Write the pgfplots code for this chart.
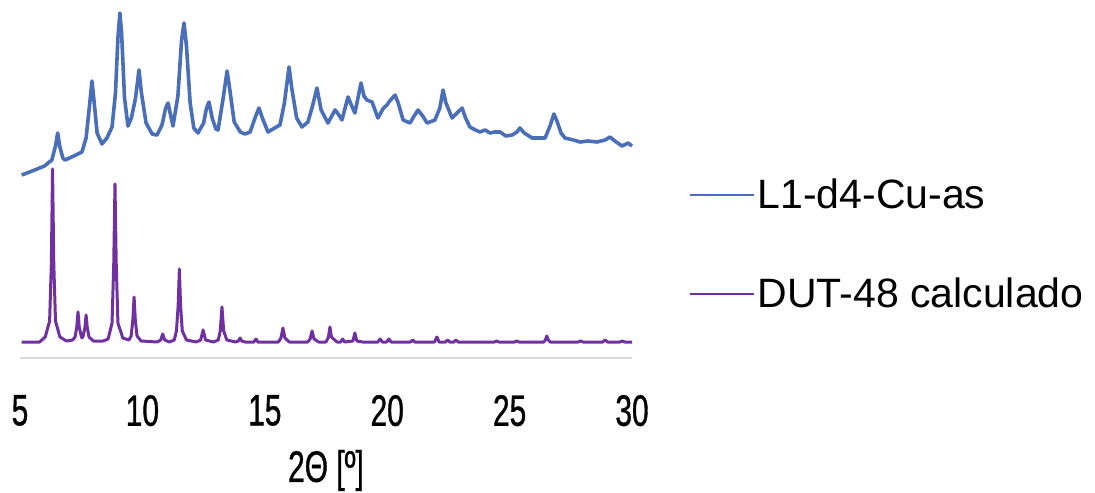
\documentclass[border=0pt]{standalone}
\usepackage{fontspec}
\setmainfont{Liberation Sans}
\newfontfamily\condfont[FakeStretch=0.68,FakeBold=0.8]{Liberation Sans}
\usepackage{pgfplots}
\pgfplotsset{compat=1.18}
\definecolor{xblue}{HTML}{4A6FB8}
\definecolor{xpurple}{HTML}{7030A0}
\definecolor{xgray}{HTML}{D9D9D9}
\begin{document}
\begin{tikzpicture}
\useasboundingbox (0,0) rectangle (547.5pt,246pt);
\begin{axis}[
  at={(10pt,67pt)}, anchor=south west,
  scale only axis, width=306pt, height=179pt,
  xmin=5, xmax=30, ymin=0, ymax=358,
  clip=false,
  axis x line=bottom,
  axis y line=none,
  x axis line style={draw=xgray, line width=1pt, -},
  xtick={5,10,15,20,25,30},
  major tick length=0pt,
  /pgf/number format/assume math mode=true,
  xticklabel style={font=\condfont\fontsize{22}{26}\selectfont, yshift=-15pt},
  xlabel={2Θ [º]},
  xlabel style={font=\condfont\fontsize{22}{26}\selectfont, yshift=-5pt},
  legend cell align=left,
  legend image code/.code={\draw[#1, line width=1.1pt] (0pt,0pt) -- (32pt,0pt);},
  legend style={draw=none, fill=none, at={(rel axis cs:1.0915,0.317)}, anchor=west,
    font=\fontsize{20.5}{24}\selectfont, row sep=30pt, inner sep=0pt,
    nodes={inner sep=1.5pt}},
]
\addplot[xblue, line width=1.8pt, line join=round] coordinates {
(5.07,183)(5.5,187)(6.0,192)(6.3,198)(6.45,212)(6.54,225)(6.62,212)(6.75,200)(6.84,198)
(7.2,202)(7.53,206)(7.7,220)(7.85,255)(7.94,277)(8.02,258)(8.15,225)(8.35,214)(8.55,220)
(8.76,231)(8.9,265)(9.0,320)(9.08,345)(9.15,325)(9.27,260)(9.41,232)(9.55,240)(9.72,260)
(9.86,288)(9.96,265)(10.15,235)(10.4,224)(10.6,223)(10.8,233)(10.95,250)(11.05,255)
(11.15,243)(11.25,232)(11.45,262)(11.6,318)(11.7,335)(11.8,312)(11.95,255)(12.1,230)
(12.27,225)(12.5,235)(12.62,250)(12.72,256)(12.85,240)(13.0,229)(13.09,228)(13.3,260)
(13.46,287)(13.55,272)(13.75,236)(14.0,226)(14.19,224)(14.4,226)(14.6,240)(14.76,250)
(14.9,240)(15.13,226)(15.4,230)(15.62,233)(15.8,255)(15.99,291)(16.1,270)(16.3,240)
(16.52,231)(16.76,236)(16.95,252)(17.13,270)(17.3,248)(17.58,235)(17.87,248)(18.0,244)
(18.15,238)(18.4,261)(18.5,255)(18.68,245)(18.93,275)(19.05,262)(19.17,258)(19.38,256)
(19.62,240)(19.85,250)(19.99,253)(20.1,257)(20.32,263)(20.45,255)(20.65,238)(20.93,235)
(21.1,242)(21.26,248)(21.45,242)(21.63,235)(21.95,238)(22.15,250)(22.28,268)(22.4,255)
(22.65,240)(22.85,245)(23.06,250)(23.2,240)(23.38,231)(23.6,228)(23.79,226)(24.0,228)
(24.2,225)(24.4,226)(24.61,226)(24.85,222)(25.1,223)(25.3,226)(25.42,230)(25.6,225)
(25.92,220)(26.2,220)(26.45,220)(26.65,232)(26.81,244)(26.95,236)(27.1,225)(27.26,220)
(27.6,218)(27.88,216)(28.2,217)(28.57,216)(28.9,218)(29.1,221)(29.3,217)(29.59,212)
(29.84,215)(30.0,212)
};
\addlegendentry{L1-d4-Cu-as}
\addplot[xpurple, line width=1.5pt, line join=round] coordinates {
(5.07,16)(5.8,16)(6.03,21)(6.21,37)(6.28,94)(6.33,189)(6.38,94)(6.45,37)(6.63,21)(6.9,17)
(7.15,18)(7.25,21)(7.32,31)(7.37,46)(7.42,31)(7.5,22)(7.535,20)(7.58,22)(7.65,30)(7.7,43)
(7.75,30)(7.82,21)(8.0,17)(8.4,17)(8.6,19)(8.76,35)(8.83,95)(8.88,174)(8.93,95)(9.0,35)
(9.2,20)(9.45,18)(9.54,22)(9.61,38)(9.66,61)(9.71,38)(9.78,22)(9.95,17)(10.6,16)
(10.75,18)(10.83,24)(10.91,18)(11.1,16)(11.3,18)(11.39,27)(11.46,52)(11.51,89)(11.56,52)
(11.63,27)(11.8,18)(12.2,16)(12.38,18)(12.48,28)(12.58,18)(12.9,16)(13.1,18)(13.18,27)
(13.25,51)(13.32,27)(13.45,18)(13.8,16)(13.92,17)(13.99,20)(14.06,17)(14.2,16)(14.55,16)
(14.64,19)(14.72,16)(15.55,16)(15.66,20)(15.74,30)(15.82,20)(16.0,16)(16.75,16)(16.85,19)
(16.93,27)(17.01,19)(17.2,16)(17.5,16)(17.6,21)(17.66,31)(17.72,21)(17.95,16)(18.1,16)
(18.18,19)(18.26,16)(18.6,17)(18.68,25)(18.76,17)(19.0,16)(19.62,16)(19.71,19)(19.8,16)
(19.98,16)(20.07,19)(20.16,16)(20.95,16)(21.04,18)(21.13,16)(21.93,16)(22.03,21)(22.12,16)
(22.38,16)(22.47,18)(22.56,16)(22.72,16)(22.81,18)(22.9,16)(24.38,16)(24.47,17)(24.56,16)
(25.2,16)(25.29,17)(25.38,16)(26.4,16)(26.46,18)(26.52,22)(26.58,18)(26.66,16)(27.8,16)
(27.9,17)(28.0,16)(28.8,16)(28.9,18)(29.0,16)(29.5,16)(29.6,17)(29.7,16)(30.0,16)
};
\addlegendentry{DUT-48 calculado}
\end{axis}
\end{tikzpicture}
\end{document}
